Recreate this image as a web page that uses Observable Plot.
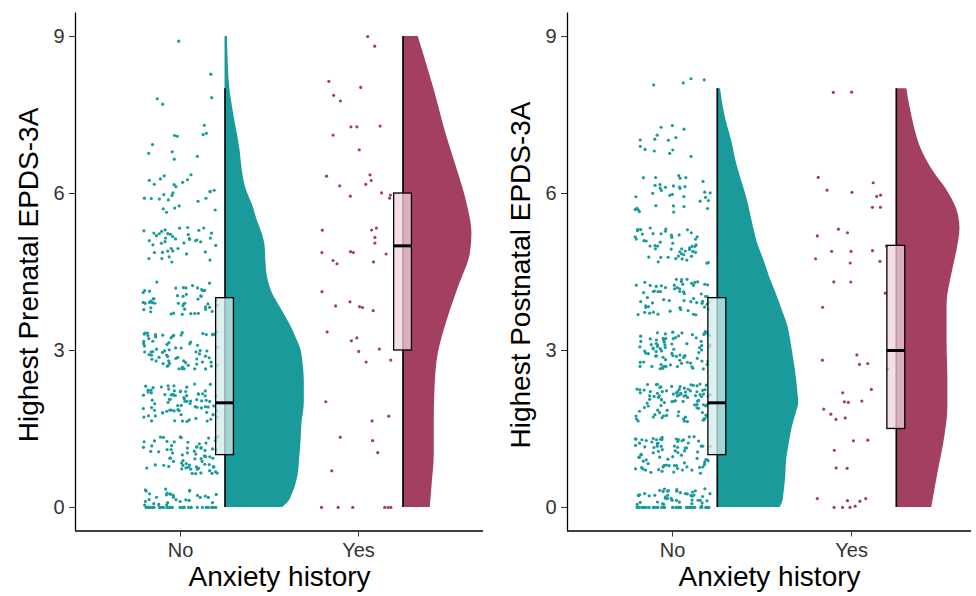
<!DOCTYPE html>
<html>
<head>
<meta charset="utf-8">
<script src="https://cdn.jsdelivr.net/npm/d3@7"></script>
<script src="https://cdn.jsdelivr.net/npm/@observablehq/plot@0.6"></script>
<style>
  html, body { margin: 0; padding: 0; background: #fff; }
  #wrap { display: flex; width: 976px; height: 596px; }
</style>
</head>
<body>
<div id="wrap"></div>
<script>
// ---------- data ----------
const groups = ["No", "Yes"];
const scores = [0, 1, 2, 3, 4, 5, 6, 7, 8, 9];
const yTicks = [0, 3, 6, 9];
const xTitle = "Anxiety history";
const yTitlePre = "Highest Prenatal EPDS-3A";
const yTitlePost = "Highest Postnatal EPDS-3A";

// number of participants per score (0..9)
const countsPreNo   = [62, 72, 80, 74, 48, 42, 26, 10, 4, 1];
const countsPreYes  = [6, 4, 3, 7, 6, 12, 9, 5, 4, 2];
const countsPostNo  = [80, 80, 95, 82, 62, 50, 34, 14, 4, 0];
const countsPostYes = [8, 5, 9, 5, 4, 10, 8, 0, 2, 0];

// half-violin density profiles: [score, relative density]
const densPreNo = [[0,0.72],[0.1,0.79],[0.25,0.84],[0.6,0.91],[0.9,0.93],[1.3,0.95],[1.6,0.96],[2.0,0.99],[2.4,0.99],[2.8,0.97],[3.0,0.95],[3.2,0.9],[3.5,0.81],[3.8,0.7],[4.1,0.59],[4.4,0.53],[4.7,0.51],[5.0,0.5],[5.2,0.47],[5.5,0.4],[5.75,0.35],[6.1,0.26],[6.5,0.21],[6.8,0.19],[7.5,0.11],[8.0,0.06],[8.5,0.04],[9,0.03]];
const densPreYes = [[0,0.34],[0.38,0.36],[1.03,0.39],[1.66,0.39],[2.3,0.4],[2.94,0.44],[3.57,0.55],[4.2,0.69],[4.85,0.84],[5.24,0.86],[5.8,0.8],[6.44,0.68],[7.07,0.55],[8.03,0.38],[9,0.19]];
const densPostNo = [[0,0.78],[0.1,0.81],[0.3,0.83],[0.6,0.85],[0.9,0.86],[1.2,0.89],[1.53,0.93],[1.8,0.98],[2.0,1.01],[2.2,1.0],[2.5,0.98],[2.81,0.95],[3.2,0.91],[3.44,0.88],[3.8,0.8],[4.09,0.73],[4.4,0.65],[4.72,0.58],[5.0,0.51],[5.35,0.45],[5.7,0.4],[6.0,0.35],[6.3,0.29],[6.63,0.23],[7.0,0.18],[7.27,0.13],[7.6,0.08],[8.0,0.04]];
const densPostYes = [[0,0.44],[0.6,0.51],[1.33,0.6],[1.91,0.64],[2.43,0.64],[3.15,0.63],[3.88,0.63],[4.46,0.69],[4.97,0.76],[5.33,0.79],[5.7,0.75],[6.06,0.63],[6.4,0.47],[6.78,0.33],[7.5,0.19],[8.0,0.13]];

// ---------- styling ----------
const colors = {No: "#1b9a9b", Yes: "#a3405f"};
const boxFill = {No: "#d2ebeb", Yes: "#f1d4de"};
const yDomain = [-0.45, 9.45];
const violinScale = 0.45;   // category units per unit of relative density
const sideOffset = 0.25;    // box / violin offset from category position
const boxHalf = 0.05;
const jitterW = 0.21, jitterH = 0.36;

// deterministic jitter (integer hash of the point index, like a fixed-seed geom_jitter)
function hash01(n) {
  let t = (n * 0x9E3779B1) >>> 0;
  t = Math.imul(t ^ (t >>> 15), t | 1);
  t ^= t + Math.imul(t ^ (t >>> 7), t | 61);
  return ((t ^ (t >>> 14)) >>> 0) / 4294967296;
}

function expand(counts) {
  const out = [];
  counts.forEach((c, i) => { for (let k = 0; k < c; k++) out.push(scores[i]); });
  return out;
}

function stats(values) {
  const v = values.slice().sort(d3.ascending);
  const q1 = d3.quantile(v, 0.25), med = d3.quantile(v, 0.5), q3 = d3.quantile(v, 0.75);
  const iqr = q3 - q1;
  const lo = d3.min(v.filter(d => d >= q1 - 1.5 * iqr));
  const hi = d3.max(v.filter(d => d <= q3 + 1.5 * iqr));
  return {q1, med, q3, lo, hi};
}

function panel(yTitle, countsNo, countsYes, densNo, densYes, xDomain, marginLeft, seed) {
  const sets = {No: countsNo, Yes: countsYes};
  const dens = {No: densNo, Yes: densYes};
  const marks = [];
  groups.forEach((g, gi) => {
    const pos = gi + 1;
    const vals = expand(sets[g]);
    const pts = vals.map((s, k) => {
      const u = hash01(seed + gi * 10007 + k * 2 + 1);
      const w = hash01(seed + gi * 10007 + k * 2 + 2);
      return {x: pos + (u - 0.5) * 2 * jitterW, y: Math.max(0, Math.min(9, s + (w - 0.5) * 2 * jitterH))};
    });
    marks.push(Plot.dot(pts, {x: "x", y: "y", r: 1.6, fill: colors[g], stroke: null}));
  });
  groups.forEach((g, gi) => {
    const pos = gi + 1;
    const st = stats(expand(sets[g]));
    marks.push(Plot.areaX(dens[g], {
      y: d => d[0], x1: () => pos + sideOffset, x2: d => pos + sideOffset + d[1] * violinScale,
      fill: colors[g], curve: "monotone-y"
    }));
    marks.push(Plot.ruleX([st], {x: () => pos + sideOffset, y1: "lo", y2: "hi", stroke: "#000", strokeWidth: 1.6}));
    marks.push(Plot.rect([st], {
      x1: () => pos + sideOffset - boxHalf, x2: () => pos + sideOffset + boxHalf,
      y1: "q1", y2: "q3", fill: boxFill[g], fillOpacity: 0.75, stroke: "#000", strokeWidth: 1.3
    }));
    marks.push(Plot.ruleY([st], {y: "med", x1: () => pos + sideOffset - boxHalf, x2: () => pos + sideOffset + boxHalf, stroke: "#000", strokeWidth: 3}));
  });
  marks.push(Plot.ruleX([xDomain[0]], {stroke: "#000", strokeWidth: 1.3}));
  marks.push(Plot.ruleY([yDomain[0]], {stroke: "#000", strokeWidth: 1.3}));
  marks.push(Plot.axisY({ticks: yTicks, tickSize: 6, tickPadding: 5, label: null, stroke: "#333", fill: "#333", fontSize: 20}));
  marks.push(Plot.axisX({ticks: [1, 2], tickFormat: d => groups[d - 1], tickSize: 6, tickPadding: 6, label: null, stroke: "#333", fill: "#333", fontSize: 20}));
  marks.push(Plot.text([yTitle], {text: d => d, frameAnchor: "left", textAnchor: "middle", dx: -46, dy: 3, rotate: -90, fontSize: 28, fill: "#000"}));
  marks.push(Plot.text([xTitle], {text: d => d, frameAnchor: "bottom", textAnchor: "middle", dy: 55, fontSize: 28, fill: "#000"}));

  return Plot.plot({
    width: 488, height: 596,
    marginLeft, marginRight: 5, marginTop: 12.5, marginBottom: 65.5,
    style: {fontFamily: "'Liberation Sans', Arial, sans-serif", fontSize: "20px", background: "#fff", color: "#333", overflow: "visible"},
    x: {type: "linear", domain: xDomain},
    y: {domain: yDomain},
    marks
  });
}

const wrap = document.getElementById("wrap");
wrap.appendChild(panel(yTitlePre, countsPreNo, countsPreYes, densPreNo, densPreYes, [0.41, 2.702], 75, 17));
wrap.appendChild(panel(yTitlePost, countsPostNo, countsPostYes, densPostNo, densPostYes, [0.413, 2.67], 79, 52711));
</script>
</body>
</html>
